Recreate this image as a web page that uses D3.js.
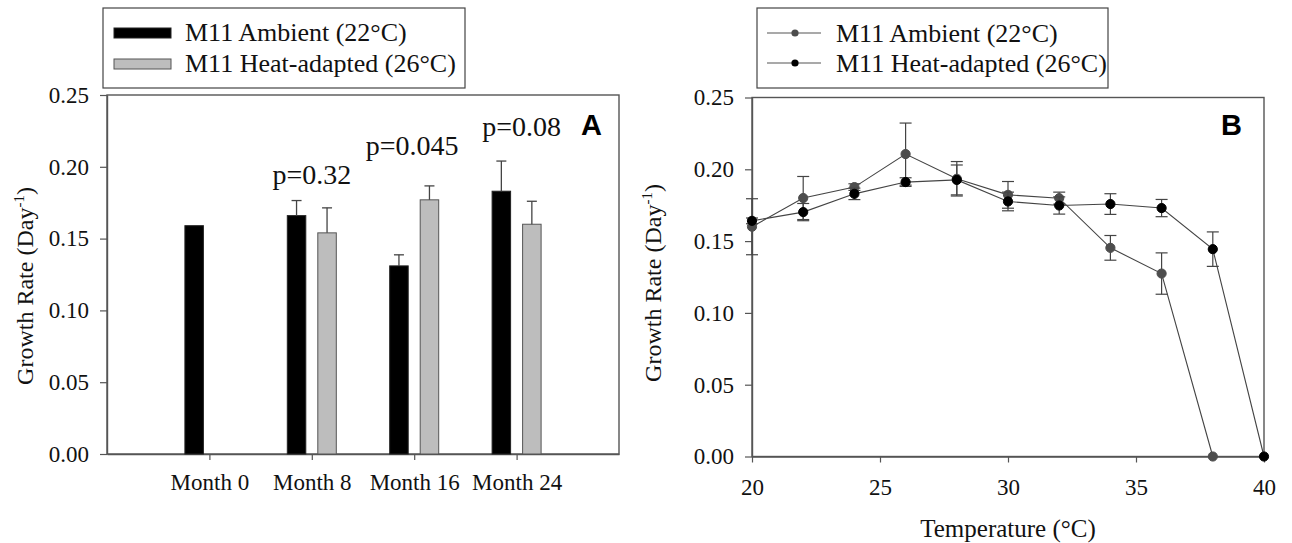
<!DOCTYPE html>
<html>
<head>
<meta charset="utf-8">
<script src="https://cdn.jsdelivr.net/npm/d3@7"></script>
<style>
html,body{margin:0;padding:0;background:#fff;}
svg{display:block;}
text{font-family:"Liberation Serif","Times New Roman",serif;fill:#111;}
text.panel{font-family:"Liberation Sans",Arial,sans-serif;font-weight:bold;fill:#000;}
</style>
</head>
<body>
<svg id="chart" width="1292" height="543"></svg>
<script>
// ---------- data ----------
const months = ["Month 0", "Month 8", "Month 16", "Month 24"];
const ambientBar = [0.159, 0.166, 0.131, 0.183];
const ambientBarErr = [null, 0.0105, 0.0077, 0.021];
const heatBar = [null, 0.154, 0.177, 0.160];
const heatBarErr = [null, 0.0174, 0.0097, 0.016];
const pLabels = [null, "p=0.32", "p=0.045", "p=0.08"];

const temps = [20, 22, 24, 26, 28, 30, 32, 34, 36, 38, 40];
const ambientRate = [0.160, 0.180, 0.1876, 0.2106, 0.1934, 0.1822, 0.1799, 0.1453, 0.1274, 0, null];
const ambientErr = [0.0195, 0.015, 0.0023, 0.0216, 0.012, 0.0093, 0.0042, 0.0086, 0.0144, 0, null];
const heatRate = [0.1641, 0.1702, 0.1829, 0.1911, 0.1926, 0.1776, 0.1748, 0.1758, 0.173, 0.1444, 0];
const heatErr = [0.002, 0.006, 0.004, 0.003, 0.0104, 0.0065, 0.006, 0.0072, 0.006, 0.012, 0];

const yTicks = [0, 0.05, 0.10, 0.15, 0.20, 0.25];
const tempTicks = [20, 25, 30, 35, 40];
const seriesNames = ["M11 Ambient (22°C)", "M11 Heat-adapted (26°C)"];

// ---------- layout ----------
const svg = d3.select("#chart");
const AX = "#555";
const fmt = d3.format(".2f");

function styleAxis(g){
  g.select(".domain").attr("stroke", AX).attr("stroke-width", 1.4);
  g.selectAll(".tick line").attr("stroke", AX).attr("stroke-width", 1.2);
  g.selectAll(".tick text").attr("font-family", '"Liberation Serif","Times New Roman",serif')
    .attr("font-size", 23).attr("fill", "#111");
}
function yTitle(x, y){
  const t = svg.append("text").attr("transform", `translate(${x},${y}) rotate(-90)`)
    .attr("text-anchor", "middle").attr("font-size", 24);
  t.append("tspan").text("Growth Rate (Day");
  t.append("tspan").attr("font-size", 15).attr("dy", -9).text("-1");
  t.append("tspan").attr("dy", 9).text(")");
}

// ===== Panel A =====
const xA = d3.scaleLinear().domain([0, 5]).range([107, 619]);
const yA = d3.scaleLinear().domain([0, 0.25]).range([454, 95]);
const barW = 18.5, barGap = 6;

svg.append("rect").attr("x", xA(0)).attr("y", yA(0.25))
  .attr("width", xA(5) - xA(0)).attr("height", yA(0) - yA(0.25))
  .attr("fill", "none").attr("stroke", AX).attr("stroke-width", 1.4);

const gAy = svg.append("g").attr("transform", `translate(${xA(0)},0)`)
  .call(d3.axisLeft(yA).tickValues(yTicks).tickFormat(fmt).tickSize(7).tickPadding(11).tickSizeOuter(0));
styleAxis(gAy);
const gAx = svg.append("g").attr("transform", `translate(0,${yA(0)})`)
  .call(d3.axisBottom(xA).tickValues([1, 2, 3, 4]).tickFormat(d => months[d - 1]).tickSize(6).tickPadding(14).tickSizeOuter(0));
styleAxis(gAx);

const errColA = "#444";
months.forEach((m, i) => {
  const cx = xA(i + 1);
  if (ambientBar[i] != null) {
    svg.append("rect").attr("x", cx - barGap - barW).attr("y", yA(ambientBar[i]))
      .attr("width", barW).attr("height", yA(0) - yA(ambientBar[i]))
      .attr("fill", "#000").attr("stroke", "#222").attr("stroke-width", 1);
    if (ambientBarErr[i] != null) {
      const bx = cx - barGap - barW / 2, top = yA(ambientBar[i] + ambientBarErr[i]);
      svg.append("line").attr("x1", bx).attr("x2", bx).attr("y1", yA(ambientBar[i])).attr("y2", top).attr("stroke", errColA).attr("stroke-width", 1.3);
      svg.append("line").attr("x1", bx - 5).attr("x2", bx + 5).attr("y1", top).attr("y2", top).attr("stroke", errColA).attr("stroke-width", 1.3);
    }
  }
  if (heatBar[i] != null) {
    svg.append("rect").attr("x", cx + barGap).attr("y", yA(heatBar[i]))
      .attr("width", barW).attr("height", yA(0) - yA(heatBar[i]))
      .attr("fill", "#bdbdbd").attr("stroke", "#555").attr("stroke-width", 1);
    if (heatBarErr[i] != null) {
      const bx = cx + barGap + barW / 2, top = yA(heatBar[i] + heatBarErr[i]);
      svg.append("line").attr("x1", bx).attr("x2", bx).attr("y1", yA(heatBar[i])).attr("y2", top).attr("stroke", errColA).attr("stroke-width", 1.3);
      svg.append("line").attr("x1", bx - 5).attr("x2", bx + 5).attr("y1", top).attr("y2", top).attr("stroke", errColA).attr("stroke-width", 1.3);
    }
  }
});

// p-value labels (placed above the tallest error bar of each group)
const pLift = [0, 17, 31, 25];
const pShift = [0, 0, -2, 5];
pLabels.forEach((p, i) => {
  if (!p) return;
  const hi = Math.max(ambientBar[i] + (ambientBarErr[i] || 0), heatBar[i] + (heatBarErr[i] || 0));
  svg.append("text").attr("x", xA(i + 1) + pShift[i]).attr("y", yA(hi) - pLift[i])
    .attr("text-anchor", "middle").attr("font-size", 28).text(p);
});
svg.append("text").attr("class", "panel").attr("x", xA(5) - 17).attr("y", 135).attr("text-anchor", "end")
  .attr("font-size", 29).text("A");

yTitle(33, 286);

// Legend A
const lgA = svg.append("g");
lgA.append("rect").attr("x", 103).attr("y", 8).attr("width", 362).attr("height", 80)
  .attr("fill", "#fff").attr("stroke", "#444").attr("stroke-width", 1.2);
[["#000", "#222"], ["#bdbdbd", "#555"]].forEach((c, k) => {
  lgA.append("rect").attr("x", 114).attr("y", 28 + k * 31).attr("width", 57).attr("height", 10)
    .attr("fill", c[0]).attr("stroke", c[1]).attr("stroke-width", 1);
  lgA.append("text").attr("x", 185).attr("y", 41 + k * 31).attr("font-size", 26).text(seriesNames[k]);
});

// ===== Panel B =====
const xB = d3.scaleLinear().domain([20, 40]).range([752, 1264]);
const yB = d3.scaleLinear().domain([0, 0.25]).range([456.5, 97.5]);

svg.append("rect").attr("x", xB(20)).attr("y", yB(0.25))
  .attr("width", xB(40) - xB(20)).attr("height", yB(0) - yB(0.25))
  .attr("fill", "none").attr("stroke", AX).attr("stroke-width", 1.4);
const gBy = svg.append("g").attr("transform", `translate(${xB(20)},0)`)
  .call(d3.axisLeft(yB).tickValues(yTicks).tickFormat(fmt).tickSize(7).tickPadding(11).tickSizeOuter(0));
styleAxis(gBy);
const gBx = svg.append("g").attr("transform", `translate(0,${yB(0)})`)
  .call(d3.axisBottom(xB).tickValues(tempTicks).tickFormat(d3.format("d")).tickSize(6).tickPadding(16).tickSizeOuter(0));
styleAxis(gBx);

svg.append("text").attr("x", (xB(20) + xB(40)) / 2).attr("y", 537).attr("text-anchor", "middle")
  .attr("font-size", 25).text("Temperature (°C)");
yTitle(661, 283);
svg.append("text").attr("class", "panel").attr("x", xB(40) - 22).attr("y", 135).attr("text-anchor", "end")
  .attr("font-size", 29).text("B");

const seriesB = [
  {vals: ambientRate, errs: ambientErr, color: "#4d4d4d"},
  {vals: heatRate, errs: heatErr, color: "#000"}
];
const lineGen = d3.line().defined(d => d[1] != null).x(d => xB(d[0])).y(d => yB(d[1]));
seriesB.forEach(s => {
  const pts = temps.map((t, i) => [t, s.vals[i], s.errs[i]]).filter(d => d[1] != null);
  svg.append("path").datum(pts).attr("d", lineGen).attr("fill", "none")
    .attr("stroke", "#444").attr("stroke-width", 1.1);
});
seriesB.forEach(s => {
  const pts = temps.map((t, i) => [t, s.vals[i], s.errs[i]]).filter(d => d[1] != null);
  pts.forEach(d => {
    if (d[2]) {
      const x = xB(d[0]), y1 = yB(d[1] + d[2]), y2 = yB(d[1] - d[2]);
      svg.append("line").attr("x1", x).attr("x2", x).attr("y1", y1).attr("y2", y2).attr("stroke", "#444").attr("stroke-width", 1.2);
      [y1, y2].forEach(yy => svg.append("line").attr("x1", x - 6).attr("x2", x + 6).attr("y1", yy).attr("y2", yy).attr("stroke", "#444").attr("stroke-width", 1.2));
    }
  });
  svg.selectAll(null).data(pts).enter().append("circle")
    .attr("cx", d => xB(d[0])).attr("cy", d => yB(d[1])).attr("r", 4.6)
    .attr("fill", s.color).attr("stroke", s.color);
});

// Legend B
const lgB = svg.append("g");
lgB.append("rect").attr("x", 757).attr("y", 8).attr("width", 351).attr("height", 80)
  .attr("fill", "#fff").attr("stroke", "#444").attr("stroke-width", 1.2);
seriesB.forEach((s, k) => {
  const y = 33 + k * 30;
  lgB.append("line").attr("x1", 767).attr("x2", 821).attr("y1", y).attr("y2", y).attr("stroke", "#555").attr("stroke-width", 1.1);
  lgB.append("circle").attr("cx", 795).attr("cy", y).attr("r", 3.6).attr("fill", s.color);
  lgB.append("text").attr("x", 836).attr("y", y + 9).attr("font-size", 26).text(seriesNames[k]);
});
</script>
</body>
</html>
